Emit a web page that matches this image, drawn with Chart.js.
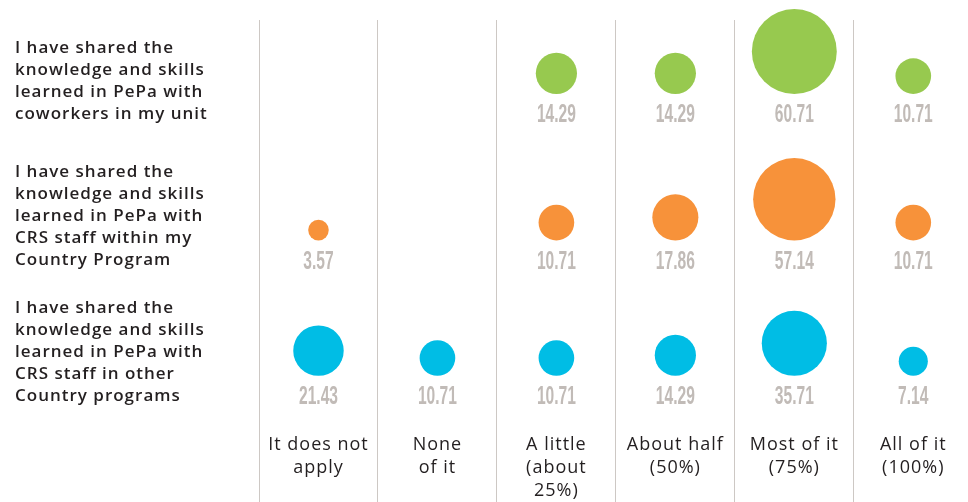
<!DOCTYPE html>
<html lang="en">
<head>
    <meta charset="UTF-8">
    <title>Sharing knowledge learned in PePa</title>
    <style>
        body {
            margin: 0;
            padding: 0;
            background-color: #fff;
        }

        #chart-wrap {
            width: 968px;
            height: 502px;
        }
    </style>
</head>
<body>
    <div id="chart-wrap">
        <canvas id="bubble-chart"></canvas>
    </div>

    <script src="https://cdn.jsdelivr.net/npm/chart.js"></script>
    <script>
        // answer columns
        const answers = [
            ['It does not', 'apply'],
            ['None', 'of it'],
            ['A little', '(about', '25%)'],
            ['About half', '(50%)'],
            ['Most of it', '(75%)'],
            ['All of it', '(100%)']
        ];

        // statement rows
        const statements = [
            ['I have shared the', 'knowledge and skills', 'learned in PePa with', 'coworkers in my unit'],
            ['I have shared the', 'knowledge and skills', 'learned in PePa with', 'CRS staff within my', 'Country Program'],
            ['I have shared the', 'knowledge and skills', 'learned in PePa with', 'CRS staff in other', 'Country programs']
        ];

        // percentages, null = no answer
        const coworkers = [null, null, 14.29, 14.29, 60.71, 10.71];
        const withinProgram = [3.57, null, 10.71, 17.86, 57.14, 10.71];
        const otherPrograms = [21.43, 10.71, 10.71, 14.29, 35.71, 7.14];

        const seriesColors = ['#97c94f', '#f7923a', '#00bde5'];
        const labelGrey = '#c1bbb7';
        const textColor = '#231f20';

        const RADIUS_K = 5.45;   // bubble area follows the value
        const LINE_H = 22;

        function toPoints(values, row) {
            const pts = [];
            values.forEach((v, i) => {
                if (v !== null) pts.push({ x: i, y: row, v: v });
            });
            return pts;
        }

        // sit each bubble on the last text line of its row, then write the value under it
        const bubbleRowPlugin = {
            id: 'bubbleRow',
            beforeDraw(chart) {
                chart.ctx.letterSpacing = '1px';
            },
            beforeDatasetsDraw(chart) {
                const yScale = chart.scales.y;
                chart.data.datasets.forEach((ds, di) => {
                    const meta = chart.getDatasetMeta(di);
                    meta.data.forEach((el, i) => {
                        const row = ds.data[i].y;
                        const lines = statements[row].length;
                        const base = yScale.getPixelForValue(row) + (lines - 1) / 2 * LINE_H - 20;
                        el.y = base - el.options.radius;
                        el.$base = base;
                    });
                });
            },
            afterDatasetsDraw(chart) {
                const ctx = chart.ctx;
                ctx.save();
                ctx.letterSpacing = '0px';
                ctx.fillStyle = labelGrey;
                ctx.font = 'bold 26px "Liberation Sans Narrow", "Liberation Sans", sans-serif';
                ctx.textAlign = 'center';
                ctx.textBaseline = 'middle';
                chart.data.datasets.forEach((ds, di) => {
                    const meta = chart.getDatasetMeta(di);
                    meta.data.forEach((el, i) => {
                        ctx.save();
                        ctx.translate(el.x, el.$base + 21);
                        ctx.scale(0.6, 1);
                        ctx.fillText(ds.data[i].v.toFixed(2), 0, 0);
                        ctx.restore();
                    });
                });
                ctx.restore();
            }
        };

        const ctxBubble = document.getElementById('bubble-chart').getContext('2d');

        new Chart(ctxBubble, {
            type: 'bubble',
            data: {
                datasets: [coworkers, withinProgram, otherPrograms].map((values, row) => ({
                    data: toPoints(values, row),
                    backgroundColor: seriesColors[row],
                    borderWidth: 0,
                    hoverBorderWidth: 0,
                    clip: false,
                    radius: c => RADIUS_K * Math.sqrt(c.raw.v)
                }))
            },
            options: {
                responsive: true,
                maintainAspectRatio: false,
                animation: false,
                layout: {
                    autoPadding: false,
                    padding: { top: 20, left: 15, right: 0, bottom: 0 }
                },
                plugins: {
                    legend: { display: false },
                    tooltip: { enabled: false }
                },
                scales: {
                    x: {
                        type: 'linear',
                        min: -0.5,
                        max: 5.46,
                        border: { display: false },
                        afterBuildTicks: scale => {
                            scale.ticks = answers.map((a, i) => ({ value: i }));
                        },
                        afterFit: scale => {
                            scale.height = 77;
                            scale.paddingLeft = 0;
                            scale.paddingRight = 0;
                        },
                        grid: {
                            offset: true,
                            drawTicks: true,
                            tickLength: 77,
                            lineWidth: 1,
                            color: c => c.index >= answers.length ? 'rgba(0,0,0,0)' : '#cdc8c4'
                        },
                        ticks: {
                            padding: -69,
                            color: textColor,
                            maxRotation: 0,
                            autoSkip: false,
                            callback: v => answers[v],
                            font: { family: '"Open Sans", sans-serif', size: 18, weight: '500', lineHeight: 23 / 18 }
                        }
                    },
                    y: {
                        type: 'linear',
                        reverse: true,
                        min: -0.45,
                        max: 2.54,
                        border: { display: false },
                        grid: { display: false },
                        afterBuildTicks: scale => {
                            scale.ticks = statements.map((s, i) => ({ value: i }));
                        },
                        afterFit: scale => {
                            scale.width = 244;
                            scale.paddingTop = 0;
                            scale.paddingBottom = 0;
                        },
                        ticks: {
                            crossAlign: 'far',
                            autoSkip: false,
                            color: textColor,
                            callback: v => statements[v],
                            font: { family: '"Open Sans", sans-serif', size: 17, weight: '600', lineHeight: LINE_H / 17 }
                        }
                    }
                }
            },
            plugins: [bubbleRowPlugin]
        });
    </script>
</body>
</html>
